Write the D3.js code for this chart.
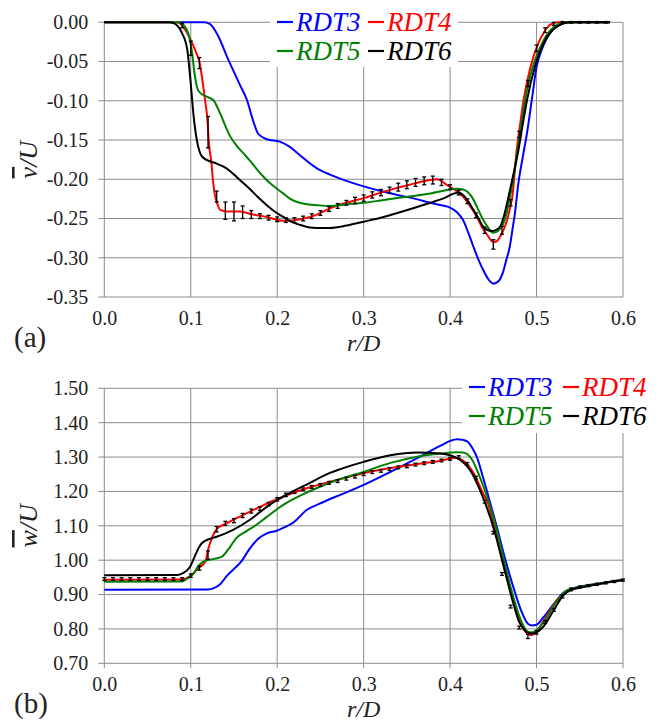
<!DOCTYPE html>
<html><head><meta charset="utf-8">
<script src="https://cdn.jsdelivr.net/npm/d3@7"></script>
<style>
html,body{margin:0;padding:0;background:#fff;}
</style></head>
<body><svg id="chart" width="659" height="724"></svg>
<script>
// ---------- DATA ----------
const seriesNames = ["RDT3", "RDT4", "RDT5", "RDT6"];
const seriesColors = ["#0000ff", "#ff0000", "#008000", "#000000"];
const xTicks = [0.0, 0.1, 0.2, 0.3, 0.4, 0.5, 0.6];
const vTicks = [0.00, -0.05, -0.10, -0.15, -0.20, -0.25, -0.30, -0.35];
const wTicks = [1.50, 1.40, 1.30, 1.20, 1.10, 1.00, 0.90, 0.80, 0.70];

// (a) v/U  [r/D, v/U]
const vRDT3 = [[0,0],[0.115,0],[0.122,-0.002],[0.132,-0.018],[0.142,-0.044],[0.149,-0.061],[0.157,-0.08],[0.165,-0.099],[0.172,-0.125],[0.178,-0.142],[0.188,-0.149],[0.203,-0.152],[0.215,-0.159],[0.226,-0.169],[0.246,-0.186],[0.261,-0.194],[0.28,-0.202],[0.3,-0.209],[0.32,-0.215],[0.339,-0.22],[0.36,-0.225],[0.377,-0.23],[0.39,-0.233],[0.4,-0.236],[0.408,-0.242],[0.415,-0.252],[0.421,-0.268],[0.427,-0.286],[0.433,-0.303],[0.438,-0.315],[0.444,-0.327],[0.45,-0.333],[0.456,-0.33],[0.461,-0.319],[0.465,-0.303],[0.469,-0.286],[0.472,-0.265],[0.475,-0.243],[0.479,-0.205],[0.484,-0.172],[0.489,-0.141],[0.495,-0.095],[0.5,-0.057],[0.506,-0.035],[0.512,-0.02],[0.52,-0.008],[0.527,-0.002],[0.54,0],[0.585,0]];
const vRDT4 = [[0,0],[0.085,0],[0.09,-0.004],[0.095,-0.012],[0.101,-0.025],[0.106,-0.038],[0.11,-0.05],[0.113,-0.07],[0.115,-0.086],[0.117,-0.103],[0.119,-0.12],[0.121,-0.154],[0.124,-0.18],[0.126,-0.205],[0.128,-0.22],[0.131,-0.232],[0.134,-0.239],[0.142,-0.241],[0.157,-0.241],[0.172,-0.245],[0.188,-0.248],[0.207,-0.253],[0.227,-0.251],[0.246,-0.245],[0.261,-0.237],[0.28,-0.23],[0.3,-0.224],[0.32,-0.217],[0.339,-0.211],[0.36,-0.205],[0.377,-0.201],[0.385,-0.2],[0.396,-0.207],[0.405,-0.213],[0.415,-0.222],[0.423,-0.234],[0.431,-0.248],[0.437,-0.261],[0.443,-0.271],[0.45,-0.28],[0.454,-0.279],[0.458,-0.273],[0.462,-0.264],[0.466,-0.252],[0.469,-0.238],[0.472,-0.222],[0.477,-0.163],[0.481,-0.13],[0.485,-0.099],[0.493,-0.057],[0.502,-0.027],[0.509,-0.012],[0.516,-0.003],[0.525,0],[0.585,0]];
const vRDT5 = [[0,0],[0.085,0],[0.09,-0.002],[0.097,-0.014],[0.101,-0.035],[0.105,-0.07],[0.108,-0.085],[0.111,-0.09],[0.119,-0.095],[0.126,-0.099],[0.134,-0.116],[0.14,-0.132],[0.146,-0.146],[0.153,-0.157],[0.161,-0.167],[0.169,-0.177],[0.177,-0.188],[0.186,-0.199],[0.196,-0.209],[0.207,-0.218],[0.215,-0.225],[0.226,-0.23],[0.236,-0.232],[0.246,-0.233],[0.261,-0.234],[0.28,-0.232],[0.3,-0.23],[0.32,-0.227],[0.339,-0.224],[0.36,-0.221],[0.377,-0.218],[0.395,-0.214],[0.408,-0.212],[0.415,-0.213],[0.42,-0.216],[0.426,-0.224],[0.431,-0.235],[0.437,-0.249],[0.443,-0.26],[0.45,-0.268],[0.455,-0.266],[0.46,-0.26],[0.464,-0.249],[0.467,-0.235],[0.47,-0.218],[0.473,-0.2],[0.477,-0.17],[0.481,-0.141],[0.485,-0.112],[0.489,-0.086],[0.497,-0.052],[0.508,-0.023],[0.516,-0.01],[0.523,-0.004],[0.532,0],[0.585,0]];
const vRDT6 = [[0,0],[0.075,0],[0.08,-0.001],[0.085,-0.005],[0.09,-0.014],[0.096,-0.035],[0.1,-0.078],[0.103,-0.116],[0.107,-0.15],[0.11,-0.164],[0.113,-0.171],[0.122,-0.177],[0.13,-0.18],[0.138,-0.184],[0.146,-0.19],[0.153,-0.197],[0.161,-0.205],[0.169,-0.213],[0.177,-0.222],[0.188,-0.233],[0.197,-0.241],[0.207,-0.248],[0.216,-0.254],[0.226,-0.258],[0.236,-0.261],[0.246,-0.262],[0.261,-0.262],[0.28,-0.259],[0.3,-0.254],[0.32,-0.249],[0.339,-0.243],[0.36,-0.236],[0.377,-0.23],[0.395,-0.223],[0.405,-0.218],[0.41,-0.217],[0.415,-0.22],[0.421,-0.228],[0.427,-0.239],[0.433,-0.25],[0.438,-0.26],[0.444,-0.265],[0.449,-0.266],[0.454,-0.264],[0.458,-0.26],[0.462,-0.248],[0.466,-0.23],[0.469,-0.215],[0.472,-0.2],[0.479,-0.163],[0.484,-0.13],[0.489,-0.099],[0.498,-0.057],[0.508,-0.027],[0.516,-0.013],[0.523,-0.006],[0.53,-0.002],[0.537,0],[0.585,0]];
// experiment (error bars) [r/D, v/U, half-error]
const vExp = [[0.09,-0.004,0.003],[0.10,-0.033,0.009],[0.11,-0.052,0.007],[0.12,-0.14,0.02],[0.13,-0.222,0.007],[0.14,-0.24,0.011],[0.15,-0.241,0.012],[0.16,-0.242,0.008],[0.17,-0.245,0.005],[0.18,-0.247,0.003],[0.19,-0.249,0.003],[0.20,-0.251,0.003],[0.21,-0.252,0.003],[0.22,-0.252,0.003],[0.23,-0.25,0.003],[0.24,-0.247,0.003],[0.25,-0.243,0.003],[0.26,-0.238,0.003],[0.27,-0.234,0.003],[0.28,-0.23,0.003],[0.29,-0.227,0.004],[0.30,-0.224,0.004],[0.31,-0.22,0.004],[0.32,-0.217,0.004],[0.33,-0.214,0.004],[0.34,-0.21,0.005],[0.35,-0.207,0.005],[0.36,-0.204,0.005],[0.37,-0.202,0.005],[0.38,-0.201,0.005],[0.39,-0.204,0.004],[0.40,-0.21,0.003],[0.41,-0.217,0.003],[0.42,-0.228,0.003],[0.43,-0.246,0.003],[0.44,-0.265,0.004],[0.45,-0.283,0.006],[0.46,-0.265,0.005],[0.47,-0.23,0.004],[0.48,-0.143,0.004],[0.49,-0.078,0.004],[0.50,-0.033,0.004],[0.51,-0.01,0.003],[0.52,-0.002,0.002],[0.53,0,0.001],[0.54,0,0.001],[0.55,0,0.001],[0.56,0,0.001],[0.57,0,0.001],[0.58,0,0.001]];

// (b) w/U  [r/D, w/U]
const wRDT3 = [[0,0.914],[0.12,0.915],[0.126,0.918],[0.134,0.93],[0.142,0.955],[0.149,0.972],[0.159,0.998],[0.168,1.033],[0.178,1.062],[0.188,1.078],[0.2,1.086],[0.207,1.094],[0.219,1.11],[0.234,1.146],[0.25,1.165],[0.261,1.178],[0.273,1.19],[0.3,1.219],[0.331,1.257],[0.362,1.297],[0.389,1.333],[0.4,1.347],[0.408,1.352],[0.415,1.35],[0.42,1.345],[0.426,1.325],[0.431,1.3],[0.438,1.242],[0.446,1.17],[0.454,1.097],[0.463,1.01],[0.473,0.923],[0.483,0.848],[0.49,0.815],[0.495,0.81],[0.5,0.812],[0.508,0.834],[0.52,0.873],[0.531,0.905],[0.54,0.917],[0.55,0.923],[0.577,0.934],[0.6,0.943]];
const wRDT4 = [[0,0.943],[0.09,0.944],[0.1,0.955],[0.109,0.977],[0.117,0.996],[0.12,1.03],[0.125,1.068],[0.13,1.09],[0.142,1.108],[0.161,1.132],[0.18,1.155],[0.2,1.178],[0.219,1.196],[0.238,1.212],[0.261,1.228],[0.284,1.243],[0.3,1.253],[0.331,1.268],[0.362,1.28],[0.389,1.289],[0.406,1.298],[0.415,1.29],[0.421,1.275],[0.427,1.254],[0.438,1.195],[0.443,1.17],[0.452,1.088],[0.461,0.992],[0.472,0.894],[0.481,0.818],[0.489,0.787],[0.494,0.782],[0.5,0.792],[0.503,0.803],[0.514,0.847],[0.526,0.891],[0.54,0.915],[0.55,0.921],[0.577,0.933],[0.6,0.943]];
const wRDT5 = [[0,0.937],[0.09,0.938],[0.095,0.945],[0.103,0.96],[0.108,0.98],[0.114,0.995],[0.126,1.003],[0.136,1.01],[0.143,1.03],[0.153,1.065],[0.165,1.085],[0.176,1.103],[0.188,1.126],[0.207,1.161],[0.226,1.187],[0.246,1.21],[0.261,1.225],[0.273,1.236],[0.3,1.257],[0.331,1.283],[0.362,1.301],[0.389,1.31],[0.408,1.314],[0.415,1.313],[0.42,1.308],[0.426,1.29],[0.431,1.263],[0.437,1.225],[0.444,1.175],[0.454,1.088],[0.463,0.992],[0.473,0.894],[0.483,0.818],[0.49,0.792],[0.495,0.79],[0.5,0.797],[0.51,0.826],[0.522,0.875],[0.535,0.912],[0.55,0.922],[0.577,0.934],[0.6,0.943]];
const wRDT6 = [[0,0.956],[0.085,0.957],[0.091,0.962],[0.099,0.98],[0.105,1.013],[0.109,1.035],[0.113,1.05],[0.122,1.062],[0.13,1.068],[0.149,1.088],[0.168,1.117],[0.188,1.155],[0.2,1.175],[0.215,1.196],[0.234,1.22],[0.261,1.254],[0.273,1.265],[0.3,1.286],[0.331,1.305],[0.362,1.313],[0.389,1.31],[0.4,1.305],[0.408,1.297],[0.415,1.285],[0.42,1.272],[0.426,1.25],[0.431,1.224],[0.44,1.17],[0.451,1.088],[0.461,0.992],[0.471,0.894],[0.48,0.82],[0.485,0.8],[0.489,0.79],[0.495,0.787],[0.5,0.79],[0.508,0.807],[0.52,0.855],[0.531,0.898],[0.54,0.914],[0.55,0.92],[0.577,0.933],[0.6,0.942]];
const wExp = [[0.00,0.945,0.004],[0.01,0.945,0.004],[0.02,0.945,0.004],[0.03,0.945,0.004],[0.04,0.945,0.004],[0.05,0.945,0.004],[0.06,0.945,0.004],[0.07,0.945,0.004],[0.08,0.945,0.004],[0.09,0.945,0.004],[0.10,0.955,0.005],[0.11,0.977,0.006],[0.12,1.015,0.012],[0.13,1.09,0.008],[0.14,1.107,0.006],[0.15,1.115,0.006],[0.16,1.13,0.006],[0.17,1.143,0.006],[0.18,1.15,0.005],[0.19,1.163,0.005],[0.20,1.177,0.005],[0.21,1.19,0.005],[0.22,1.198,0.004],[0.23,1.206,0.004],[0.24,1.213,0.004],[0.25,1.219,0.004],[0.26,1.225,0.004],[0.27,1.23,0.004],[0.28,1.237,0.004],[0.29,1.243,0.004],[0.30,1.25,0.004],[0.31,1.256,0.004],[0.32,1.26,0.004],[0.33,1.265,0.004],[0.34,1.27,0.004],[0.35,1.273,0.004],[0.36,1.278,0.004],[0.37,1.282,0.004],[0.38,1.286,0.004],[0.39,1.29,0.004],[0.40,1.295,0.004],[0.41,1.3,0.004],[0.42,1.28,0.004],[0.43,1.24,0.004],[0.44,1.17,0.004],[0.45,1.08,0.004],[0.46,0.96,0.004],[0.47,0.865,0.004],[0.48,0.804,0.004],[0.49,0.778,0.006],[0.50,0.79,0.005],[0.51,0.82,0.004],[0.52,0.855,0.004],[0.53,0.894,0.004],[0.54,0.915,0.004],[0.55,0.922,0.003],[0.56,0.926,0.003],[0.57,0.93,0.003],[0.58,0.934,0.003],[0.59,0.938,0.003],[0.60,0.942,0.003]];

// ---------- DRAW ----------
const FONT = "'Liberation Serif', 'Times New Roman', serif";
const svg = d3.select("#chart");
svg.append("rect").attr("width",659).attr("height",724).attr("fill","#fff");
const gridColor = "#8c8c8c";

function panel(opt){
  const g = svg.append("g");
  const x = d3.scaleLinear().domain([0,0.6]).range([104.3,623]);
  const y = d3.scaleLinear().domain(opt.domain).range([opt.bottom, opt.top]);
  // gridlines
  g.selectAll(".hg").data(opt.yTicks).join("line")
    .attr("x1",x(0)-6).attr("x2",x(0.6))
    .attr("y1",d=>y(d)).attr("y2",d=>y(d))
    .attr("stroke",gridColor).attr("stroke-width",1);
  g.selectAll(".vg").data(xTicks).join("line")
    .attr("x1",d=>x(d)).attr("x2",d=>x(d))
    .attr("y1",y.range()[1]).attr("y2",y.range()[0]+opt.xTickLen)
    .attr("stroke",gridColor).attr("stroke-width",1);
  // axis tick labels via d3 axes (no domain line)
  const ya = d3.axisLeft(y).tickValues(opt.yTicks).tickSize(0).tickPadding(16)
    .tickFormat(d=>d.toFixed(2));
  const yg = g.append("g").attr("transform",`translate(${x(0)},0)`).call(ya)
    .attr("font-family",FONT).attr("font-size",20);
  yg.select(".domain").remove();
  yg.selectAll("text").attr("fill","#222");
  const xa = d3.axisBottom(x).tickValues(xTicks).tickSize(0).tickPadding(13.5)
    .tickFormat(d=>d.toFixed(1));
  const xg = g.append("g").attr("transform",`translate(0,${opt.bottom})`).call(xa)
    .attr("font-family",FONT).attr("font-size",20);
  xg.select(".domain").remove();
  xg.selectAll("text").attr("fill","#222");

  // series lines
  const line = d3.line().x(d=>x(d[0])).y(d=>y(d[1])).curve(d3.curveMonotoneX);
  opt.series.forEach((s,i)=>{
    g.append("path").datum(s).attr("d",line).attr("fill","none")
      .attr("stroke",seriesColors[i]).attr("stroke-width",2)
      .attr("stroke-linejoin","round");
  });
  // error bars
  const eb = g.append("g").attr("stroke","#000").attr("stroke-width",1.3);
  opt.exp.forEach(d=>{
    const xx = x(d[0]), y1 = y(d[1]-d[2]), y2 = y(d[1]+d[2]);
    eb.append("line").attr("x1",xx).attr("x2",xx).attr("y1",y1).attr("y2",y2);
    eb.append("line").attr("x1",xx-2).attr("x2",xx+2).attr("y1",y1).attr("y2",y1);
    eb.append("line").attr("x1",xx-2).attr("x2",xx+2).attr("y1",y2).attr("y2",y2);
  });

  // legend
  const lg = svg.append("g");
  lg.append("rect").attr("x",opt.leg.x-7).attr("y",opt.leg.y-opt.leg.pad)
    .attr("width",188).attr("height",opt.leg.h).attr("fill","#fff");
  seriesNames.forEach((n,i)=>{
    const cx = opt.leg.x + (i%2)*opt.leg.dx;
    const cy = opt.leg.y + Math.floor(i/2)*opt.leg.dy;
    lg.append("line").attr("x1",cx).attr("x2",cx+16).attr("y1",cy-9).attr("y2",cy-9)
      .attr("stroke",seriesColors[i]).attr("stroke-width",2.2);
    lg.append("text").attr("x",cx+19).attr("y",cy).text(n)
      .attr("font-family",FONT).attr("font-size",27).attr("font-style","italic")
      .attr("fill",seriesColors[i]);
  });

  // axis titles
  svg.append("text").attr("x",x(0.3)).attr("y",opt.bottom+54).attr("text-anchor","middle")
    .attr("font-family",FONT).attr("font-size",24).attr("font-style","italic")
    .attr("fill","#222").text("r/D");
  svg.append("text").attr("x",14).attr("y",opt.bottom+50)
    .attr("font-family",FONT).attr("font-size",29).attr("fill","#222").text(opt.tag);
  const yt = svg.append("text")
    .attr("transform",`translate(37,${(opt.top+opt.bottom)/2}) rotate(-90)`)
    .attr("text-anchor","middle").attr("font-family",FONT).attr("font-size",26)
    .attr("font-style","italic").attr("fill","#222");
  yt.append("tspan").style("text-decoration","overline").text(opt.sym);
  yt.append("tspan").text("/U");
}

panel({domain:[-0.35,0], top:22.3, bottom:297, yTicks:vTicks, xTickLen:0,
  series:[vRDT3,vRDT4,vRDT5,vRDT6], exp:vExp, tag:"(a)", sym:"v",
  leg:{x:277, y:31, dx:91, dy:29, pad:31, h:67}});
panel({domain:[0.7,1.5], top:388.3, bottom:663.3, yTicks:wTicks, xTickLen:5,
  series:[wRDT3,wRDT4,wRDT5,wRDT6], exp:wExp, tag:"(b)", sym:"w",
  leg:{x:469, y:396, dx:94, dy:29, pad:18, h:55}});
</script></body></html>
